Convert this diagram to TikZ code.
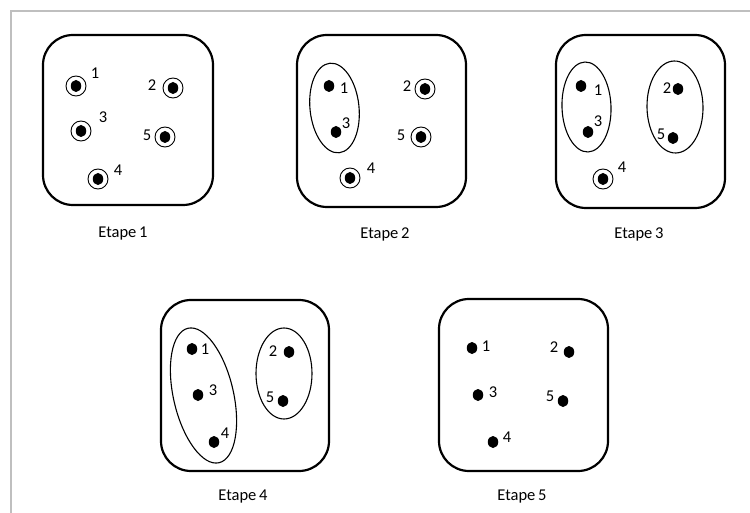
\documentclass[tikz,border=0pt]{standalone}
\usepackage{fontspec}
\setmainfont{Carlito}
\usetikzlibrary{shapes.geometric}
\begin{document}
\begin{tikzpicture}[x=1pt,y=-1pt,
  box/.style={draw, line width=2.2pt, rounded corners=30pt, inner sep=0},
  dot/.style={ellipse, fill=black, inner sep=0, minimum width=10.5pt, minimum height=12pt},
  ring/.style={circle, draw, line width=0.9pt, minimum size=20pt, inner sep=0},
  grp/.style={ellipse, draw, line width=1.1pt, inner sep=0},
  lbl/.style={inner sep=0, font=\fontsize{16.5}{19}\selectfont},
  stagetitle/.style={inner sep=0, font=\fontsize{16.5}{19}\selectfont},
  outline/.style={draw=black!25, line width=2pt}]
\useasboundingbox (0,0) rectangle (750,513);
\draw[outline] (11,513) -- (11,11) -- (750,11);

% ---------- Etape 1
\node[box, minimum width=170pt, minimum height=170pt] (b1) at (128,120) {};
\node[ring] (r11) at (76,86) {};   \node[dot] (d11) at (76,86) {};
\node[ring] (r12) at (173,88) {};  \node[dot] (d12) at (173,88) {};
\node[ring] (r13) at (81,131) {};  \node[dot] (d13) at (81,131) {};
\node[ring] (r15) at (165,137) {}; \node[dot] (d15) at (165,137) {};
\node[ring] (r14) at (98,179) {};  \node[dot] (d14) at (98,179) {};
\node[lbl] (l11) at (95,73) {1};
\node[lbl] (l12) at (152,85) {2};
\node[lbl] (l13) at (103,117) {3};
\node[lbl] (l15) at (147,135) {5};
\node[lbl] (l14) at (118,170) {4};
\node[stagetitle] (c1) at (123,234) {Etape\,1};

% ---------- Etape 2
\node[box, minimum width=169pt, minimum height=172pt] (b2) at (381.5,121) {};
\node[grp, minimum width=49pt, minimum height=90pt, rotate=6] (g21) at (334.5,108) {};
\node[dot] (d21) at (329,86) {};
\node[dot] (d23) at (336,132) {};
\node[ring] (r22) at (425,89) {};  \node[dot] (d22) at (425,89) {};
\node[ring] (r25) at (421,137) {}; \node[dot] (d25) at (421,137) {};
\node[ring] (r24) at (350,178) {}; \node[dot] (d24) at (350,178) {};
\node[lbl] (l21) at (344,88) {1};
\node[lbl] (l23) at (346,123) {3};
\node[lbl] (l22) at (407,86) {2};
\node[lbl] (l25) at (401,135) {5};
\node[lbl] (l24) at (371,168) {4};
\node[stagetitle] (c2) at (385,234) {Etape\,2};

% ---------- Etape 3
\node[box, minimum width=169pt, minimum height=173pt] (b3) at (640.5,121.5) {};
\node[grp, minimum width=49pt, minimum height=90pt, rotate=2] (g31) at (586.5,107) {};
\node[grp, minimum width=56pt, minimum height=92pt, rotate=1] (g32) at (675,107) {};
\node[dot] (d31) at (581,86) {};
\node[dot] (d33) at (588,132) {};
\node[dot] (d32) at (678,89) {};
\node[dot] (d35) at (673,138) {};
\node[ring] (r34) at (603,179) {}; \node[dot] (d34) at (603,179) {};
\node[lbl] (l31) at (598,90) {1};
\node[lbl] (l33) at (598,121) {3};
\node[lbl] (l32) at (667,88) {2};
\node[lbl] (l35) at (661,134) {5};
\node[lbl] (l34) at (622,167) {4};
\node[stagetitle] (c3) at (639,234) {Etape\,3};

% ---------- Etape 4
\node[box, minimum width=168pt, minimum height=171pt] (b4) at (245,385.5) {};
\node[grp, minimum width=60pt, minimum height=138pt, rotate=13] (g41) at (203.5,395.5) {};
\node[grp, minimum width=56pt, minimum height=91pt] (g42) at (284,373.5) {};
\node[dot] (d41) at (192,349) {};
\node[dot] (d43) at (198,395) {};
\node[dot] (d44) at (214,442) {};
\node[dot] (d42) at (289,352) {};
\node[dot] (d45) at (283,401) {};
\node[lbl] (l41) at (205,349) {1};
\node[lbl] (l43) at (213,390) {3};
\node[lbl] (l44) at (225,433) {4};
\node[lbl] (l42) at (273,351) {2};
\node[lbl] (l45) at (270,397) {5};
\node[stagetitle] (c4) at (243,497) {Etape\,4};

% ---------- Etape 5
\node[box, minimum width=169pt, minimum height=172pt] (b5) at (523.5,385) {};
\node[dot] (d51) at (472,348) {};
\node[dot] (d52) at (569,352) {};
\node[dot] (d53) at (478,395) {};
\node[dot] (d55) at (563,401) {};
\node[dot] (d54) at (493,442) {};
\node[lbl] (l51) at (486,346) {1};
\node[lbl] (l52) at (554,347) {2};
\node[lbl] (l53) at (493,392) {3};
\node[lbl] (l55) at (550,396) {5};
\node[lbl] (l54) at (507,437) {4};
\node[stagetitle] (c5) at (522,497) {Etape\,5};
\end{tikzpicture}
\end{document}
